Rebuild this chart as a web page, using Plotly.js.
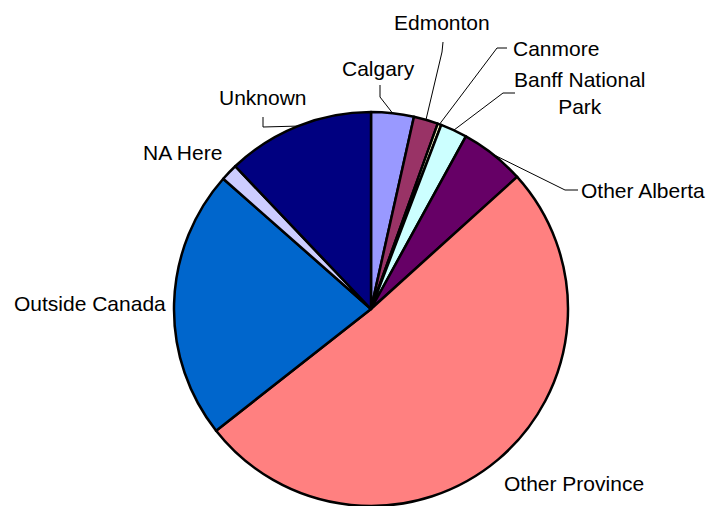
<!DOCTYPE html>
<html>
<head>
<meta charset="utf-8">
<script src="https://cdn.plot.ly/plotly-3.0.1.min.js"></script>
<style>html,body{margin:0;padding:0;background:#fff;}#chart{width:709px;height:506px;}</style>
</head>
<body>
<div id="chart"></div>
<script>
// Data
const labels = ["Calgary", "Edmonton", "Canmore", "Banff National Park", "Other Alberta",
                "Other Province", "Outside Canada", "NA Here", "Unknown"];
const values = [3.5, 2.0, 0.3, 2.2, 5.3, 51.1, 22.1, 1.4, 12.1];
const colors = ["#9999FF", "#993366", "#FFFFCC", "#CCFFFF", "#660066",
                "#FF8080", "#0066CC", "#CCCCFF", "#000080"];
const labelText = ["Calgary", "Edmonton", "Canmore", "Banff National<br>Park", "Other Alberta",
                   "Other Province", "Outside Canada", "NA Here", "Unknown"];

// Layout (pixel positions)
const W = 709, H = 506;
const CX = 371, CY = 309, R = 197;
const labelPos = [
  {x: 379, y: 68, anchor: "center"},
  {x: 442, y: 23, anchor: "center"},
  {x: 511, y: 48, anchor: "left"},
  {x: 580, y: 93, anchor: "center"},
  {x: 579, y: 190, anchor: "left"},
  {x: 502, y: 483, anchor: "left"},
  {x: 12, y: 303, anchor: "left"},
  {x: 141, y: 152, anchor: "left"},
  {x: 217, y: 97, anchor: "left"}
];
// leader line elbows (pixel) — null means no leader
const leaders = [
  [[380, 85], [380, 97]],
  [[443, 42], [442, 52]],
  [[507, 48], [497, 48]],
  [[515, 93], [503, 93]],
  [[578, 190], [565, 190]],
  null, null, null,
  [[263, 117], [263, 127]]
];

const px = x => x / W;
const py = y => 1 - y / H;

const total = values.reduce((a, b) => a + b, 0);
let cum = 0;
const shapes = [];
const annotations = [];
values.forEach((v, i) => {
  const mid = (cum + v / 2) / total * 2 * Math.PI;
  cum += v;
  const ex = CX + R * Math.sin(mid), ey = CY - R * Math.cos(mid);
  const lp = labelPos[i];
  annotations.push({
    x: px(lp.x), y: py(lp.y), xref: "paper", yref: "paper",
    text: labelText[i], showarrow: false, xanchor: lp.anchor, yanchor: "middle",
    align: "center", font: {family: "Liberation Sans, Arial, sans-serif", size: 21, color: "#000"}
  });
  if (leaders[i]) {
    const pts = leaders[i].concat([[ex, ey]]);
    const path = "M " + pts.map(p => px(p[0]) + "," + py(p[1])).join(" L ");
    shapes.push({type: "path", xref: "paper", yref: "paper", path: path,
                 line: {color: "#000", width: 1}});
  }
});

const trace = {
  type: "pie",
  labels: labels,
  values: values,
  sort: false,
  direction: "clockwise",
  rotation: 0,
  textinfo: "none",
  hoverinfo: "label+percent",
  marker: {colors: colors, line: {color: "#000", width: 2.5}},
  domain: {x: [(CX - R) / W, (CX + R) / W], y: [(H - CY - R) / H, (H - CY + R) / H]},
  showlegend: false
};

Plotly.newPlot("chart", [trace], {
  width: W, height: H,
  margin: {l: 0, r: 0, t: 0, b: 0},
  paper_bgcolor: "#fff",
  showlegend: false,
  shapes: shapes,
  annotations: annotations
}, {displayModeBar: false, staticPlot: true});
</script>
</body>
</html>
